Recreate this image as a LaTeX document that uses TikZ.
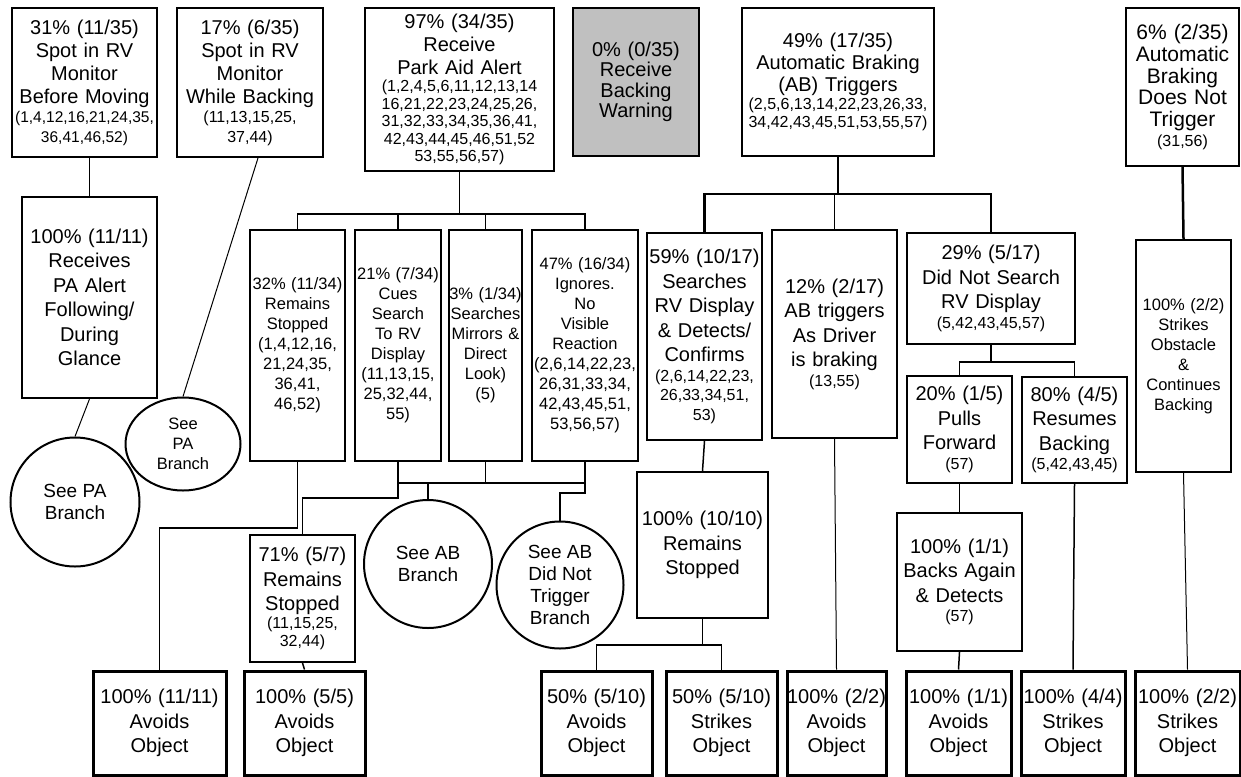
\documentclass[tikz,border=0pt]{standalone}
\usepackage{fontspec}
\setmainfont{Liberation Sans}
\usetikzlibrary{shapes.geometric}
\definecolor{warngray}{RGB}{192,192,192}
\newcommand{\bigfont}{\fontsize{20}{23}\selectfont}
\newcommand{\tallfont}{\fontsize{20}{24.5}\selectfont}
\newcommand{\midfont}{\fontsize{16.5}{20}\selectfont}
\newcommand{\listfont}{\fontsize{16}{19.5}\selectfont}

\begin{document}
\begin{tikzpicture}[x=1pt, y=-1pt,
  bx/.style={draw, line width=2pt, inner sep=0pt, align=center, font=\bigfont,
    execute at begin node={\parindent=0pt}},
  sz/.style 2 args={minimum width=#1pt, text width=#1pt, minimum height=#2pt},
  leaf/.style={bx, line width=3pt, font=\tallfont, sz={#1}{104}},
  see/.style={draw, circle, line width=2pt, inner sep=0pt, align=center,
    font=\fontsize{19}{22}\selectfont},
  ln/.style={line width=1.5pt},
  thinln/.style={line width=1pt},
  thickln/.style={line width=2.5pt}]
\useasboundingbox (0,0) rectangle (1241,776);

% first row
\node[bx, sz={145}{149}] (spotbefore) at (84.5,82.5) {31\% (11/35)\\Spot in RV\\Monitor\\Before Moving\par
  {\fontsize{15.5}{19.5}\selectfont (1,4,12,16,21,24,35,\\36,41,46,52)\par}};
\node[bx, sz={146}{149}] (spotwhile) at (250,82.5) {17\% (6/35)\\Spot in RV\\Monitor\\While Backing\par
  {\listfont (11,13,15,25,\\37,44)\par}};
\node[bx, sz={189}{163}] (parkaid) at (459.5,89.5) {97\% (34/35)\\Receive\\Park Aid Alert\par
  {\fontsize{16}{17.5}\selectfont (1,2,4,5,6,11,12,13,14\\16,21,22,23,24,25,26,\\31,32,33,34,35,36,41,\\42,43,44,45,46,51,52\\53,55,56,57)\par}};
\node[bx, fill=warngray, sz={126}{148}, font=\fontsize{20}{20.5}\selectfont] (nowarn) at (636,82) {0\% (0/35)\\Receive\\Backing\\Warning};
\node[bx, sz={192}{148}, font=\fontsize{20}{22}\selectfont] (abtrig) at (838,82) {49\% (17/35)\\Automatic Braking\\(AB) Triggers\par
  {\fontsize{16}{18}\selectfont (2,5,6,13,14,22,23,26,33,\\34,42,43,45,51,53,55,57)\par}};
\node[bx, sz={113}{158}, font=\fontsize{21}{21.7}\selectfont] (abnotrig) at (1182.5,87) {6\% (2/35)\\Automatic\\Braking\\Does Not\\Trigger\par
  {\listfont (31,56)\par}};

% park aid branch
\node[bx, sz={135}{201}, font=\tallfont] (paglance) at (89.5,297.5) {100\% (11/11)\\Receives\\PA Alert\\Following/\\During\\Glance};
\node[see, minimum size=129pt] (seepa) at (75,502) {See PA\\Branch};
\node[see, ellipse, minimum width=115pt, minimum height=93pt, font=\midfont] (seepasm) at (183,444) {See\\PA\\Branch};
\node[bx, sz={95}{231}, font=\midfont] (pastop) at (297.5,345.5) {32\% (11/34)\\Remains\\Stopped\\(1,4,12,16,\\21,24,35,\\36,41,\\46,52)};
\node[bx, sz={86}{231}, font=\midfont] (pacues) at (398,345.5) {21\% (7/34)\\Cues\\Search\\To RV\\Display\\(11,13,15,\\25,32,44,\\55)};
\node[bx, sz={73}{231}, font=\midfont] (pamirror) at (485.5,345.5) {3\% (1/34)\\Searches\\Mirrors \&\\Direct\\Look)\\(5)};
\node[bx, sz={106}{231}, font=\midfont] (paignore) at (585,345.5) {47\% (16/34)\\Ignores.\\No\\Visible\\Reaction\\(2,6,14,22,23,\\26,31,33,34,\\42,43,45,51,\\53,56,57)};
\node[bx, sz={105}{127}, font=\tallfont] (cuestop) at (302.5,598.5) {71\% (5/7)\\Remains\\Stopped\par
  {\fontsize{16}{18}\selectfont (11,15,25,\\32,44)\par}};
\node[see, minimum size=128pt] (seeab) at (428,564) {See AB\\Branch};
\node[see, minimum size=127pt] (seeabnot) at (560,585) {See AB\\Did Not\\Trigger\\Branch};

% automatic braking branch
\node[bx, sz={115}{207}, font=\tallfont] (abdetect) at (704.5,336.5) {59\% (10/17)\\Searches\\RV Display\\\& Detects/\\Confirms\par
  {\listfont (2,6,14,22,23,\\26,33,34,51,\\53)\par}};
\node[bx, sz={125}{208}, font=\tallfont] (abbraking) at (834.5,334) {12\% (2/17)\\AB triggers\\As Driver\\is braking\par
  {\listfont (13,55)\par}};
\node[bx, sz={168}{111}, font=\tallfont] (abnosearch) at (991,288.5) {29\% (5/17)\\Did Not Search\\RV Display\par
  {\listfont (5,42,43,45,57)\par}};
\node[bx, sz={105}{107}, font=\tallfont] (abpull) at (959.5,429.5) {20\% (1/5)\\Pulls\\Forward\par
  {\listfont (57)\par}};
\node[bx, sz={105}{106}, font=\tallfont] (abresume) at (1074.5,430) {80\% (4/5)\\Resumes\\Backing\par
  {\listfont (5,42,43,45)\par}};
\node[bx, sz={125}{138}, font=\tallfont] (backagain) at (959.5,582) {100\% (1/1)\\Backs Again\\\& Detects\par
  {\listfont (57)\par}};
\node[bx, sz={131}{146}, font=\tallfont] (detstop) at (702.5,545) {100\% (10/10)\\Remains\\Stopped};
\node[bx, sz={95}{232}, font=\midfont] (abstrike) at (1183.5,356) {100\% (2/2)\\Strikes\\Obstacle\\\&\\Continues\\Backing};

% outcomes
\node[leaf=133] (avoidpa) at (159.5,723) {100\% (11/11)\\Avoids\\Object};
\node[leaf=121] (avoidcue) at (304.5,723) {100\% (5/5)\\Avoids\\Object};
\node[leaf=111] (avoiddet) at (596.5,723) {50\% (5/10)\\Avoids\\Object};
\node[leaf=111] (strikedet) at (721.5,723) {50\% (5/10)\\Strikes\\Object};
\node[leaf=99] (avoidbrake) at (836.5,723) {100\% (2/2)\\Avoids\\Object};
\node[leaf=105] (avoidagain) at (958.5,723) {100\% (1/1)\\Avoids\\Object};
\node[leaf=104] (strikeresume) at (1073,723) {100\% (4/4)\\Strikes\\Object};
\node[leaf=105] (strikenot) at (1187.5,723) {100\% (2/2)\\Strikes\\Object};

% connectors, park aid side
\draw[ln] (paglance.north) -- (paglance.north |- spotbefore.south);
\draw[thinln] (paglance.south) -- (seepa.north);
\draw[thinln] ([xshift=8pt]spotwhile.south) -- (seepasm.north);
\coordinate (pabar) at (459,214);
\draw[ln] (parkaid.south) -- (parkaid.south |- pabar);
\draw[ln] (pastop.north) |- (paignore.north |- pabar) -- (paignore.north);
\draw[ln] (pacues.north) -- (pacues.north |- pabar);
\draw[ln] (pamirror.north) -- (pamirror.north |- pabar);
\coordinate (cuebar) at (0,483);
\draw[ln] (pacues.south) -- (pacues.south |- cuebar) -- (paignore.south |- cuebar) -- (paignore.south);
\draw[ln] (pamirror.south) -- (pamirror.south |- cuebar);
\draw[ln] (seeab.north) -- (seeab.north |- cuebar);
\draw[ln] (paignore.south |- cuebar) -- ++(0,10) -| (seeabnot.north);
\draw[ln] (pacues.south |- cuebar) -- ++(0,15) -| (cuestop.north);
\draw[ln] (pastop.south) -- ++(0,66) -| (avoidpa.north);
\draw[ln] (cuestop.south) -- (avoidcue.north);

% connectors, braking side
\coordinate (abbar) at (838,194);
\draw[thickln] (abtrig.south) -- (abtrig.south |- abbar);
\draw[thickln] (abdetect.north) |- (abnosearch.north |- abbar) -- (abnosearch.north);
\draw[ln] (abbraking.north) -- (abbraking.north |- abbar);
\draw[ln] (abdetect.south) -- (detstop.north);
\draw[ln] (detstop.south) -- ++(0,26) coordinate (detbar);
\draw[ln] (avoiddet.north) |- (strikedet.north |- detbar) -- (strikedet.north);
\draw[thinln] (abbraking.south) -- (avoidbrake.north);
\coordinate (srchbar) at (0,362);
\draw[ln] (abnosearch.south) -- (abnosearch.south |- srchbar);
\draw[ln] (abpull.north) |- (abresume.north |- srchbar) -- (abresume.north);
\draw[ln] (abpull.south) -- (backagain.north);
\draw[ln] (backagain.south) -- (avoidagain.north);
\draw[ln] (abresume.south) -- (strikeresume.north);
\draw[thickln] (abnotrig.south) -- (abstrike.north);
\draw[thinln] (abstrike.south) -- (strikenot.north);
\end{tikzpicture}
\end{document}
